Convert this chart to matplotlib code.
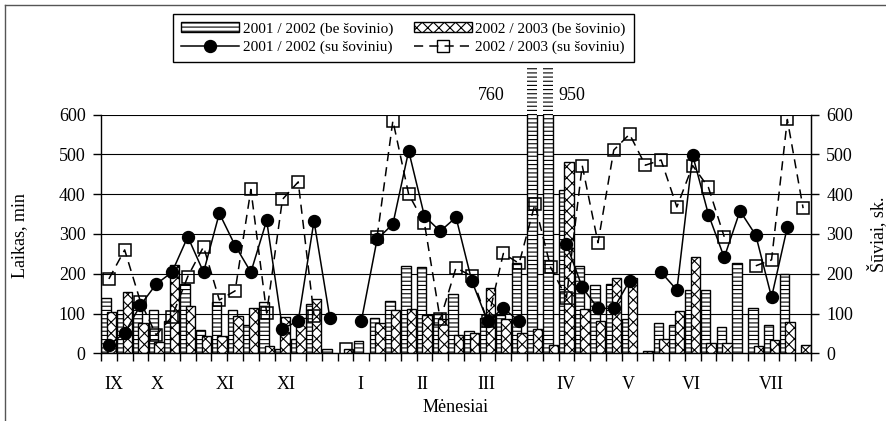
import numpy as np
import matplotlib.pyplot as plt
from matplotlib.patches import Patch
from matplotlib.lines import Line2D

plt.rcParams['font.family'] = ['Liberation Serif', 'DejaVu Serif']
plt.rcParams['hatch.linewidth'] = 0.8

nan = np.nan

# laikas, min (stulpeliai)
be_0102 = [140, 110, 130, 110, 80, 174, 58, 130, 110, 70,
           130, 12, 35, 125, 12, nan, 32, 88, 132, 220,
           216, 100, 148, 55, 88, 96, 226, 760, 950, 410,
           220, 172, 175, 85, nan, 75, 72, 160, 160, 67,
           228, 115, 70, 200, nan]
be_0203 = [105, 155, 75, 29, 222, 119, 44, 44, 93, 115,
           18, 92, 90, 137, nan, 10, nan, 75, 108, 112,
           97, 85, 45, 52, 165, 85, 50, 62, 22, 480,
           112, 80, 190, 190, 7, 36, 107, 243, 26, 26,
           nan, 18, 33, 78, 22]

# suviai, sk. (linijos)
su_0102 = [21, 51, 121, 174, 204, 293, 204, 352, 271, 204,
           334, 62, 81, 333, 90, nan, 81, 287, 325, 509,
           345, 307, 342, 182, 81, 113, 81, nan, nan, 275,
           166, 113, 113, 182, nan, 204, 159, 498, 349, 241,
           358, 297, 141, 317, nan]
su_0203 = [187, 260, 130, 46, 92, 193, 268, 134, 157, 412,
           101, 387, 431, 95, nan, 10, nan, 293, 585, 400,
           327, 85, 215, 194, 80, 251, 226, 375, 216, 140,
           472, 278, 511, 551, 473, 486, 368, 472, 417, 293,
           nan, 220, 235, 588, 365]

months = ['IX', 'X', 'XI', 'XI', 'I', 'II', 'III', 'IV', 'V', 'VI', 'VII']
month_pos = [0.3, 3.05, 7.35, 11.25, 15.95, 19.9, 23.95, 28.95, 32.9, 36.9, 42.0]

labels = ['2001 / 2002 (be šovinio)', '2002 / 2003 (be šovinio)',
          '2001 / 2002 (su šoviniu)', '2002 / 2003 (su šoviniu)']

YMAX = 600
W = 0.6
OFF1, OFF2 = -0.18, 0.17

fig = plt.figure(figsize=(8.87, 4.21), dpi=100)
ax = fig.add_axes([101 / 887, 1 - 353.3 / 421, 710 / 887, (353.3 - 114.7) / 421])

x = np.arange(len(be_0102))
ax.bar(x + OFF1, be_0102, width=W, facecolor='white', edgecolor='black',
       linewidth=1, hatch='----', zorder=2)
ax.bar(x + OFF2, be_0203, width=W, facecolor='white', edgecolor='black',
       linewidth=1, hatch='xxx', zorder=2)

# virs asies islendantys stulpeliai
h1 = np.array(be_0102, dtype=float)
over = np.where(h1 > YMAX)[0]
ax.bar(over + OFF1, [120] * len(over), bottom=YMAX, width=W, facecolor='white',
       edgecolor='black', linewidth=0, hatch='----', clip_on=False, zorder=2)
ax.annotate('%d' % h1[over[0]], xy=(over[0] + OFF1 - W / 2, YMAX), xytext=(-16, 14),
            textcoords='offset points', ha='right', va='center', fontsize=13,
            annotation_clip=False)
ax.annotate('%d' % h1[over[1]], xy=(over[1] + OFF1 + W / 2, YMAX), xytext=(4, 14),
            textcoords='offset points', ha='left', va='center', fontsize=13,
            annotation_clip=False)

ax.set_xlim(-0.5, len(x) - 0.5)
ax.set_ylim(0, YMAX)
ax.set_yticks(range(0, 601, 100))
ax.yaxis.grid(True, color='black', linewidth=0.8)
ax.set_axisbelow(True)
ax.spines['top'].set_visible(False)
for s in ['left', 'right', 'bottom']:
    ax.spines[s].set_linewidth(1)

ax.set_xticks(month_pos)
ax.set_xticklabels(months)
ax.set_xticks(np.arange(len(x) + 1) - 0.5, minor=True)
ax.tick_params(axis='x', which='major', length=0, pad=16, labelsize=13)
ax.tick_params(axis='x', which='minor', length=6, direction='out', width=1)
ax.tick_params(axis='y', length=6, direction='out', pad=5, labelsize=13, width=1)

ax2 = ax.twinx()
ax2.set_ylim(0, YMAX)
ax2.set_yticks(range(0, 601, 100))
for s in ['top', 'left', 'bottom']:
    ax2.spines[s].set_visible(False)
ax2.tick_params(axis='y', length=6, direction='out', pad=5, labelsize=13, width=1)
ax2.plot(x, su_0102, color='black', linewidth=1.1, marker='o', markersize=8.6, zorder=3)
ax2.plot(x, su_0203, color='black', linewidth=1.1, linestyle=(0, (6, 4)), marker='s',
         markersize=9, markerfacecolor='none', markeredgewidth=1.1, zorder=3)

fig.text(20 / 887, 1 - 236 / 421, 'Laikas, min', rotation=90, ha='center', va='center', fontsize=13)
fig.text(877 / 887, 1 - 234 / 421, 'Šūviai, sk.', rotation=90, ha='center', va='center', fontsize=13)
fig.text(456 / 887, 1 - 407 / 421, 'Mėnesiai', ha='center', va='center', fontsize=13)

handles = [
    Patch(facecolor='white', edgecolor='black', hatch='----', label=labels[0]),
    Line2D([], [], color='black', lw=1.1, marker='o', ms=8.6, label=labels[2]),
    Patch(facecolor='white', edgecolor='black', hatch='xxx', label=labels[1]),
    Line2D([], [], color='black', lw=1.1, ls=(0, (6, 4)), marker='s', ms=9,
           mfc='none', label=labels[3]),
]
leg = fig.legend(handles=handles, ncol=2, loc='upper left',
                 bbox_to_anchor=(173 / 887, 1 - 14 / 421), frameon=True, fancybox=False,
                 edgecolor='black', framealpha=1, fontsize=11, handlelength=3.8,
                 handleheight=0.6, columnspacing=1.4, borderpad=0.55,
                 labelspacing=0.3, handletextpad=0.2, borderaxespad=0)
leg.get_frame().set_linewidth(1)

# remelio linijos
fig.add_artist(Line2D([5 / 887, 1], [1 - 5 / 421] * 2, color='#555555', linewidth=1))
fig.add_artist(Line2D([5 / 887] * 2, [0, 1 - 5 / 421], color='#555555', linewidth=1))

fig.savefig('out.png', dpi=100)
